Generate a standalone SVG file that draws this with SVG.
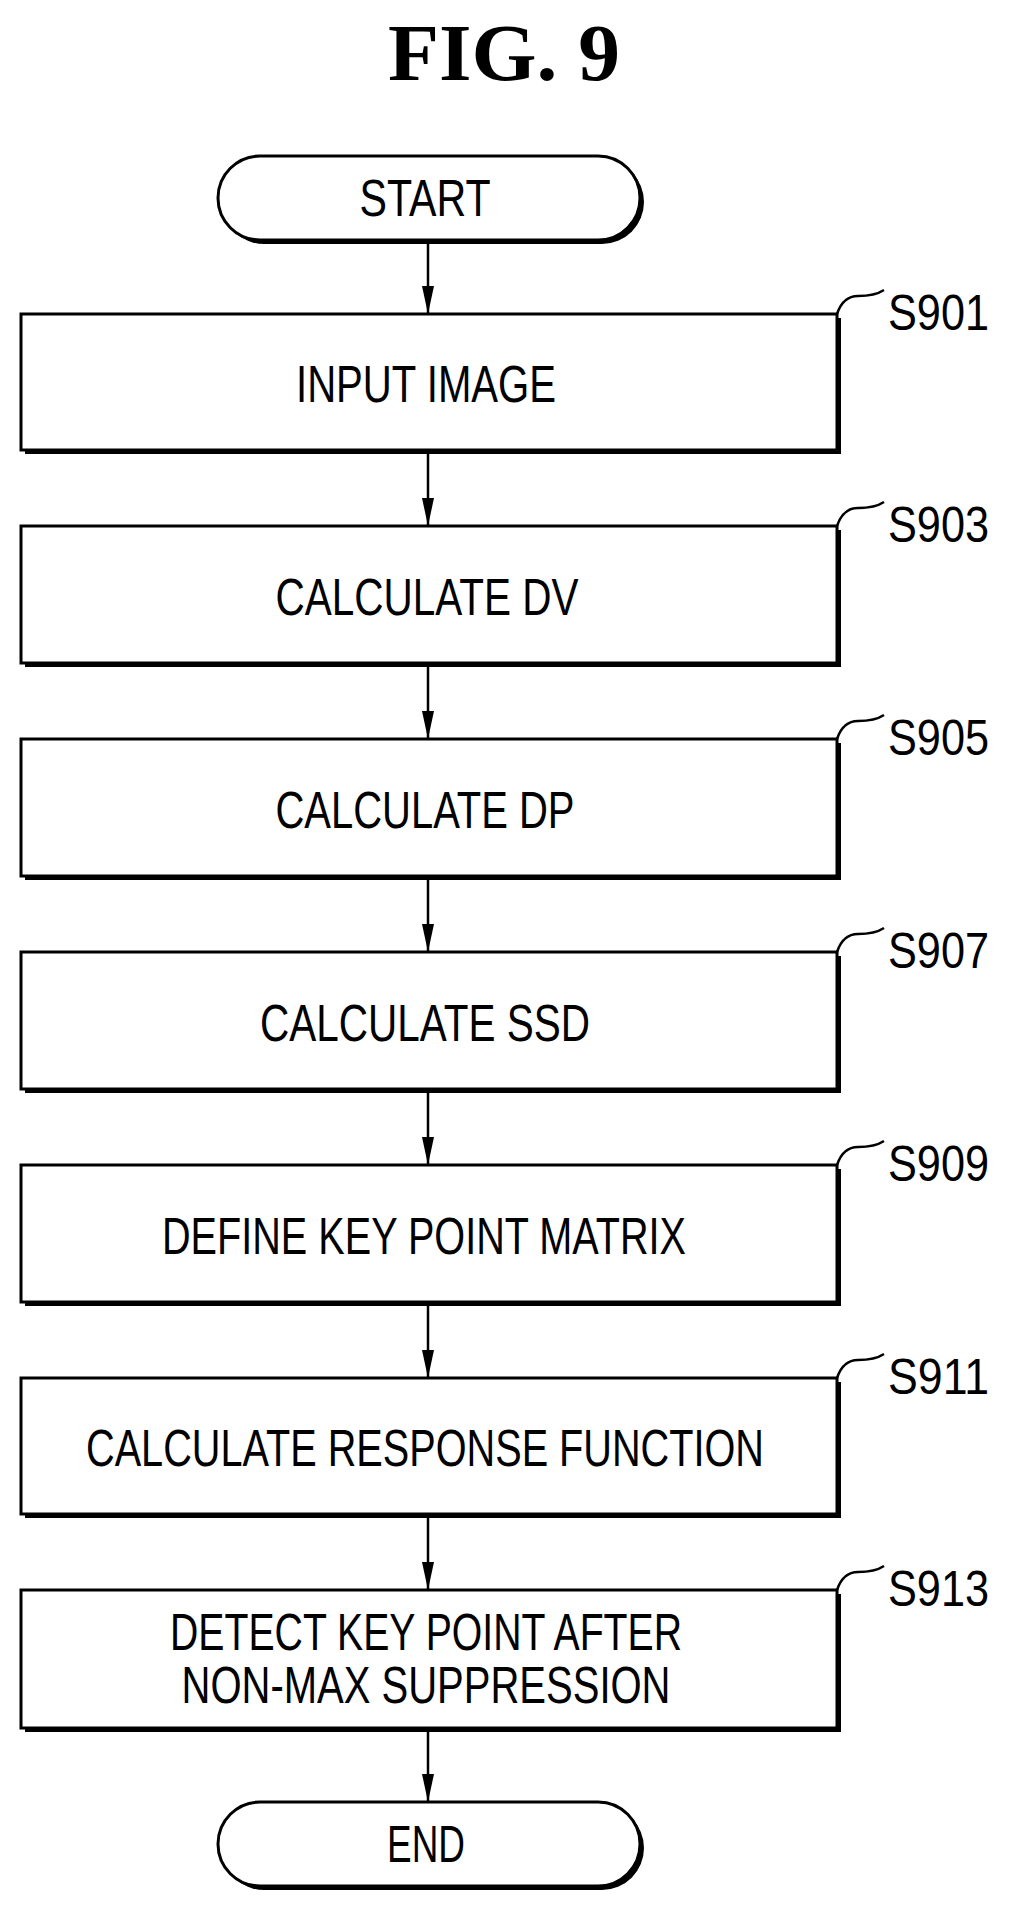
<svg xmlns="http://www.w3.org/2000/svg" width="1009" height="1913" viewBox="0 0 1009 1913">
<defs>
<style>
.t{font-family:"Liberation Sans",Arial,sans-serif;font-size:52px;fill:#000;text-anchor:middle}
.l{font-family:"Liberation Sans",Arial,sans-serif;font-size:50px;fill:#000}
.b{fill:#fff;stroke:#000;stroke-width:3}
.s{fill:#000}
.c{fill:none;stroke:#000;stroke-width:2.5}
</style>
<marker id="ah" markerWidth="12" markerHeight="28" refX="6" refY="28" orient="auto-start-reverse" markerUnits="userSpaceOnUse" viewBox="0 0 12 28"><path d="M0,0 L12,0 L6,28 Z" fill="#000" transform="rotate(0)"/></marker>
</defs>
<rect width="1009" height="1913" fill="#fff"/>
<text x="504" y="80" font-family="Liberation Serif,serif" font-weight="bold" font-size="80" text-anchor="middle" textLength="232" lengthAdjust="spacingAndGlyphs">FIG. 9</text>
<g id="connectors">
<line class="c" x1="428" y1="240" x2="428" y2="314"/><path d="M422,286 L434,286 L428,314 Z"/>
<line class="c" x1="428" y1="454" x2="428" y2="526"/><path d="M422,498 L434,498 L428,526 Z"/>
<line class="c" x1="428" y1="667" x2="428" y2="739"/><path d="M422,711 L434,711 L428,739 Z"/>
<line class="c" x1="428" y1="880" x2="428" y2="952"/><path d="M422,924 L434,924 L428,952 Z"/>
<line class="c" x1="428" y1="1093" x2="428" y2="1165"/><path d="M422,1137 L434,1137 L428,1165 Z"/>
<line class="c" x1="428" y1="1306" x2="428" y2="1378"/><path d="M422,1350 L434,1350 L428,1378 Z"/>
<line class="c" x1="428" y1="1518" x2="428" y2="1590"/><path d="M422,1562 L434,1562 L428,1590 Z"/>
<line class="c" x1="428" y1="1732" x2="428" y2="1802"/><path d="M422,1774 L434,1774 L428,1802 Z"/>
</g>
<g id="start">
<rect class="s" x="222" y="160" width="422" height="84" rx="42"/>
<rect class="b" x="218" y="156" width="422" height="84" rx="42"/>
<text class="t" x="425" y="216" textLength="131" lengthAdjust="spacingAndGlyphs">START</text>
</g>
<g id="s901">
<rect class="s" x="25" y="318" width="816" height="136"/>
<rect class="b" x="21" y="314" width="816" height="136"/>
<text class="t" x="426" y="402" textLength="260" lengthAdjust="spacingAndGlyphs">INPUT IMAGE</text>
<path class="c" d="M837,314 Q843,296 858,296 Q875,296 884,290"/>
<text class="l" x="888" y="330" textLength="101" lengthAdjust="spacingAndGlyphs">S901</text>
</g>
<g id="s903">
<rect class="s" x="25" y="530" width="816" height="137"/>
<rect class="b" x="21" y="526" width="816" height="137"/>
<text class="t" x="427" y="615" textLength="303" lengthAdjust="spacingAndGlyphs">CALCULATE DV</text>
<path class="c" d="M837,526 Q843,508 858,508 Q875,508 884,502"/>
<text class="l" x="888" y="542" textLength="101" lengthAdjust="spacingAndGlyphs">S903</text>
</g>
<g id="s905">
<rect class="s" x="25" y="743" width="816" height="137"/>
<rect class="b" x="21" y="739" width="816" height="137"/>
<text class="t" x="425" y="828" textLength="299" lengthAdjust="spacingAndGlyphs">CALCULATE DP</text>
<path class="c" d="M837,739 Q843,721 858,721 Q875,721 884,715"/>
<text class="l" x="888" y="755" textLength="101" lengthAdjust="spacingAndGlyphs">S905</text>
</g>
<g id="s907">
<rect class="s" x="25" y="956" width="816" height="137"/>
<rect class="b" x="21" y="952" width="816" height="137"/>
<text class="t" x="425" y="1041" textLength="330" lengthAdjust="spacingAndGlyphs">CALCULATE SSD</text>
<path class="c" d="M837,952 Q843,934 858,934 Q875,934 884,928"/>
<text class="l" x="888" y="968" textLength="101" lengthAdjust="spacingAndGlyphs">S907</text>
</g>
<g id="s909">
<rect class="s" x="25" y="1169" width="816" height="137"/>
<rect class="b" x="21" y="1165" width="816" height="137"/>
<text class="t" x="424" y="1254" textLength="524" lengthAdjust="spacingAndGlyphs">DEFINE KEY POINT MATRIX</text>
<path class="c" d="M837,1165 Q843,1147 858,1147 Q875,1147 884,1141"/>
<text class="l" x="888" y="1181" textLength="101" lengthAdjust="spacingAndGlyphs">S909</text>
</g>
<g id="s911">
<rect class="s" x="25" y="1382" width="816" height="136"/>
<rect class="b" x="21" y="1378" width="816" height="136"/>
<text class="t" x="425" y="1466" textLength="678" lengthAdjust="spacingAndGlyphs">CALCULATE RESPONSE FUNCTION</text>
<path class="c" d="M837,1378 Q843,1360 858,1360 Q875,1360 884,1354"/>
<text class="l" x="888" y="1394" textLength="101" lengthAdjust="spacingAndGlyphs">S911</text>
</g>
<g id="s913">
<rect class="s" x="25" y="1594" width="816" height="138"/>
<rect class="b" x="21" y="1590" width="816" height="138"/>
<text class="t" x="426" y="1650" textLength="512" lengthAdjust="spacingAndGlyphs">DETECT KEY POINT AFTER</text>
<text class="t" x="426" y="1703" textLength="489" lengthAdjust="spacingAndGlyphs">NON-MAX SUPPRESSION</text>
<path class="c" d="M837,1590 Q843,1572 858,1572 Q875,1572 884,1566"/>
<text class="l" x="888" y="1606" textLength="101" lengthAdjust="spacingAndGlyphs">S913</text>
</g>
<g id="end">
<rect class="s" x="222" y="1806" width="422" height="84" rx="42"/>
<rect class="b" x="218" y="1802" width="422" height="84" rx="42"/>
<text class="t" x="426" y="1862" textLength="78" lengthAdjust="spacingAndGlyphs">END</text>
</g>
</svg>
